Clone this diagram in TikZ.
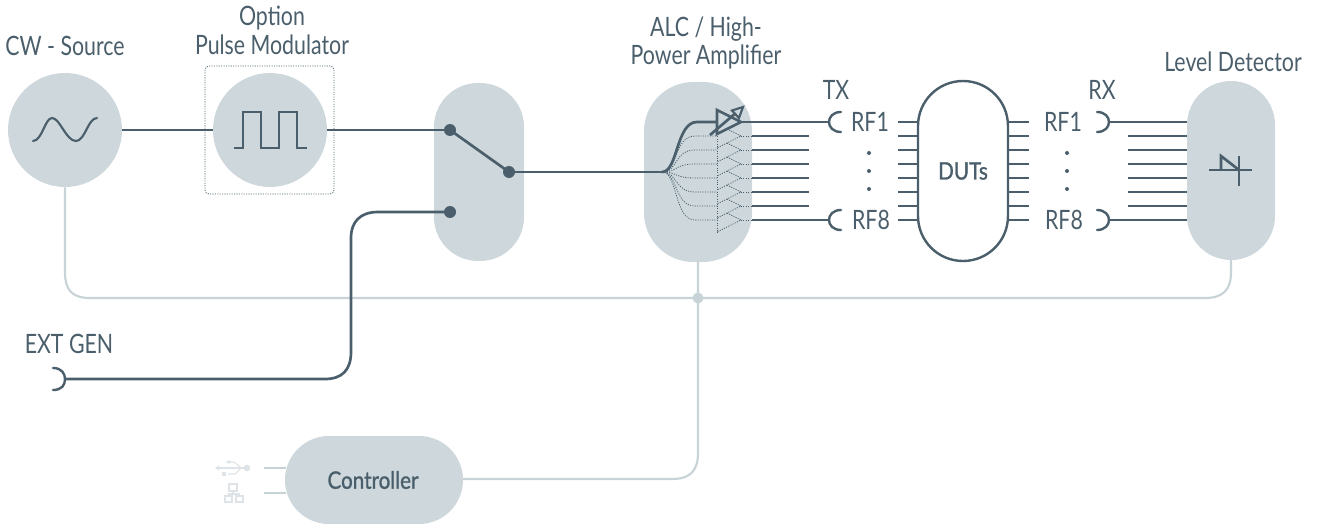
\documentclass[tikz,border=0pt]{standalone}
\usepackage{fontspec}
\setmainfont{Lato}[FakeStretch=0.8]
\newfontfamily\boldf{Lato}[FakeBold=1.2,FakeStretch=0.86]
\usetikzlibrary{calc}
\definecolor{dk}{HTML}{4A5F6B}
\definecolor{pill}{HTML}{CDD7DC}
\definecolor{lt}{HTML}{C8D3D8}
\definecolor{ic}{HTML}{DDE3E7}
\tikzset{
 x=0.75pt,y=-0.75pt,
 wire/.style={draw=dk,line width=2pt},
 thin wire/.style={draw=dk,line width=1.6pt},
 bus/.style={draw=lt,line width=1.6pt},
 dots/.style={draw=dk,line width=0.6pt,dash pattern=on 0.8pt off 1.0pt},
 lab/.style={text=dk,font=\fontsize{20pt}{24pt}\selectfont,inner sep=0pt,align=center},
 strong/.style={text=dk,font=\fontsize{18pt}{21pt}\boldf,inner sep=0pt},
 disc/.style={fill=pill,circle,minimum size=85.5pt,inner sep=0pt},
 jack/.style={draw=dk,line width=1.8pt,line cap=round},
 sw/.style={fill=dk,circle,minimum size=9pt,inner sep=0pt},
}
\begin{document}
\begin{tikzpicture}
\useasboundingbox (0,0) rectangle (1318,524);
% pills
\node[disc] (cw) at (65,130) {};
\node[disc] (pm) at (270,130) {};
\draw[dots,rounded corners=3pt] (205,66) rectangle (334,194);
\fill[pill,rounded corners=33pt] (434,83) rectangle (524,261);
\fill[pill,rounded corners=37pt] (644,82) rectangle (752,262);
\fill[pill,rounded corners=33pt] (1187,81) rectangle (1275,260);
\fill[pill,rounded corners=33pt] (285,436) rectangle (463,524);
\coordinate (ampb) at (698,262);
\coordinate (detb) at (1231,260);
\coordinate (ctlr) at (463,479);
\coordinate (j) at (698,298);
% bus
\draw[bus] (cw.south) -- (65,272) .. controls (65,290) and (72,298) .. (90,298) -- (1205,298) .. controls (1223,298) and (1231,290) .. (1231,272) -- (detb);
\draw[bus] (ampb) -- (j) -- (698,453) .. controls (698,471) and (690,479) .. (672,479) -- (ctlr);
\fill[lt] (j) circle (5.5);
% stubs
\coordinate (s1) at (264,468); \coordinate (s2) at (286,468);
\coordinate (s3) at (264,493); \coordinate (s4) at (286,493);
\draw[bus] (s1)--(s2); \draw[bus] (s3)--(s4);
% usb icon
\begin{scope}[draw=ic,fill=ic,line width=0.8pt]
\draw (217,468)--(247,468);
\draw (226,462)--(234,462)--(241,468);
\draw (228,474)--(235,474)--(241,468);
\fill (247,468) circle (3.3);
\fill (229,462) circle (1.8);
\fill (222,471.5) rectangle (226,476);
\fill (215,468)--(219,465.5)--(219,470.5)--cycle;
\draw (229,484) rectangle (237,491);
\draw (225,496) rectangle (232,502);
\draw (236,496) rectangle (243,502);
\draw (233,491)--(233,494) (228.5,496)--(228.5,494)--(239.5,494)--(239.5,496);
\end{scope}
% wires
\draw[wire] (cw.east) -- (pm.west);
\draw[wire] (pm.east) -- (450,130);
\node[sw] (a1) at (450,130) {};
\node[sw] (a2) at (450,212) {};
\node[sw] (a3) at (509,172) {};
\draw[wire] (a1.center) -- (a3.center);
\coordinate (fan) at (662,172);
\draw[wire] (a3.center) -- (fan);
\coordinate (ext) at (65,379);
\draw[wire] (a2.center) -- (378,212) .. controls (360,212) and (351,222) .. (351,238) -- (351,352) .. controls (351,370) and (342,379) .. (325,379) -- (ext);
\draw[jack] (53,368) .. controls (62,368) and (65,374) .. (65,379) .. controls (65,385) and (62,390) .. (53,390);
% symbols
\draw[thin wire,line cap=round] (33,141) .. controls (42,141) and (45,118) .. (52,118) .. controls (60,118) and (66,141) .. (76,141) .. controls (85,141) and (88,118) .. (97,118);
\draw[thin wire] (234,148)--(243,148)--(243,112)--(261,112)--(261,148)--(279,148)--(279,112)--(297,112)--(297,148)--(307,148);
% amplifier
\draw[dots] (717,134) -- (717,233);
\foreach \y in {136,150,164,178,192,206,220}{
 \draw[dots] (fan) .. controls (678,172) and (674,\y) .. (695,\y) -- (717,\y);
 \draw[dots] (727,\y-7) -- (741,\y) -- (717,\y+12);
 \draw[dots] (741,\y) -- (752,\y);
}
\draw[wire] (fan) .. controls (678,172) and (676,122) .. (697,122) -- (717,122);
\draw[wire,fill=pill] (717,110) -- (741,122) -- (717,134) -- cycle;
\draw[wire] (710,135) -- (737,112);
\draw[thin wire,fill=pill,line join=miter] (743,107) -- (732,110.5) -- (739,118) -- cycle;
% TX
\draw[wire] (741,122) -- (830,122);
\foreach \y in {136,150,164,178,192,206}{\draw[wire] (752,\y) -- (809,\y);}
\draw[wire] (752,220) -- (830,220);
\foreach \y in {122,220}{
 \draw[jack] (841,\y-10) .. controls (833,\y-10) and (829,\y-5) .. (829,\y) .. controls (829,\y+5) and (833,\y+10) .. (841,\y+10);
}
\node[lab] (tx) at (836,90) {TX};
\node[lab] (trf1) at (870,122) {RF1};
\node[lab] (trf8) at (871,220) {RF8};
\foreach \y in {153,171,189}{\fill[dk] (869,\y) circle (2); \fill[dk] (1067,\y) circle (2);}
% DUT
\foreach \y in {122,136,150,164,178,192,206,220}{
 \draw[wire] (898,\y) -- (918,\y);
 \draw[wire] (1008,\y) -- (1029,\y);
}
\node[draw=dk,line width=1.8pt,fill=white,minimum width=67.5pt,minimum height=135pt,inner sep=0pt,rounded corners=33.7pt,text=dk,font=\fontsize{18pt}{21pt}\boldf] (dut) at (963,171) {DUTs};
% RX
\foreach \y in {122,220}{
 \draw[jack] (1097,\y-10) .. controls (1105,\y-10) and (1109,\y-5) .. (1109,\y) .. controls (1109,\y+5) and (1105,\y+10) .. (1097,\y+10);
 \draw[wire] (1109,\y) -- (1187,\y);
}
\foreach \y in {136,150,164,178,192,206}{\draw[wire] (1128,\y) -- (1187,\y);}
\node[lab] (rx) at (1102,90) {RX};
\node[lab] (rrf1) at (1063,122) {RF1};
\node[lab] (rrf8) at (1064,220) {RF8};
% detector
\draw[wire] (1209,170) -- (1252,170);
\draw[wire] (1239,156) -- (1239,186);
\draw[wire] (1221,170) -- (1221,156) -- (1239,170);
% labels
\node[lab] (l1) at (65,46) {CW - Source};
\node[lab] (l2) at (272,18) {Option};
\node[lab] (l3) at (272,45) {Pulse Modulator};
\node[lab] (l4) at (706,29) {ALC / High-};
\node[lab] (l5) at (706,57) {Power Amplifier};
\node[lab] (l6) at (1233,62) {Level Detector};
\node[lab] (l7) at (69,344) {EXT GEN};
\node[strong] (ctl) at (373,480) {Controller};
\end{tikzpicture}
\end{document}
